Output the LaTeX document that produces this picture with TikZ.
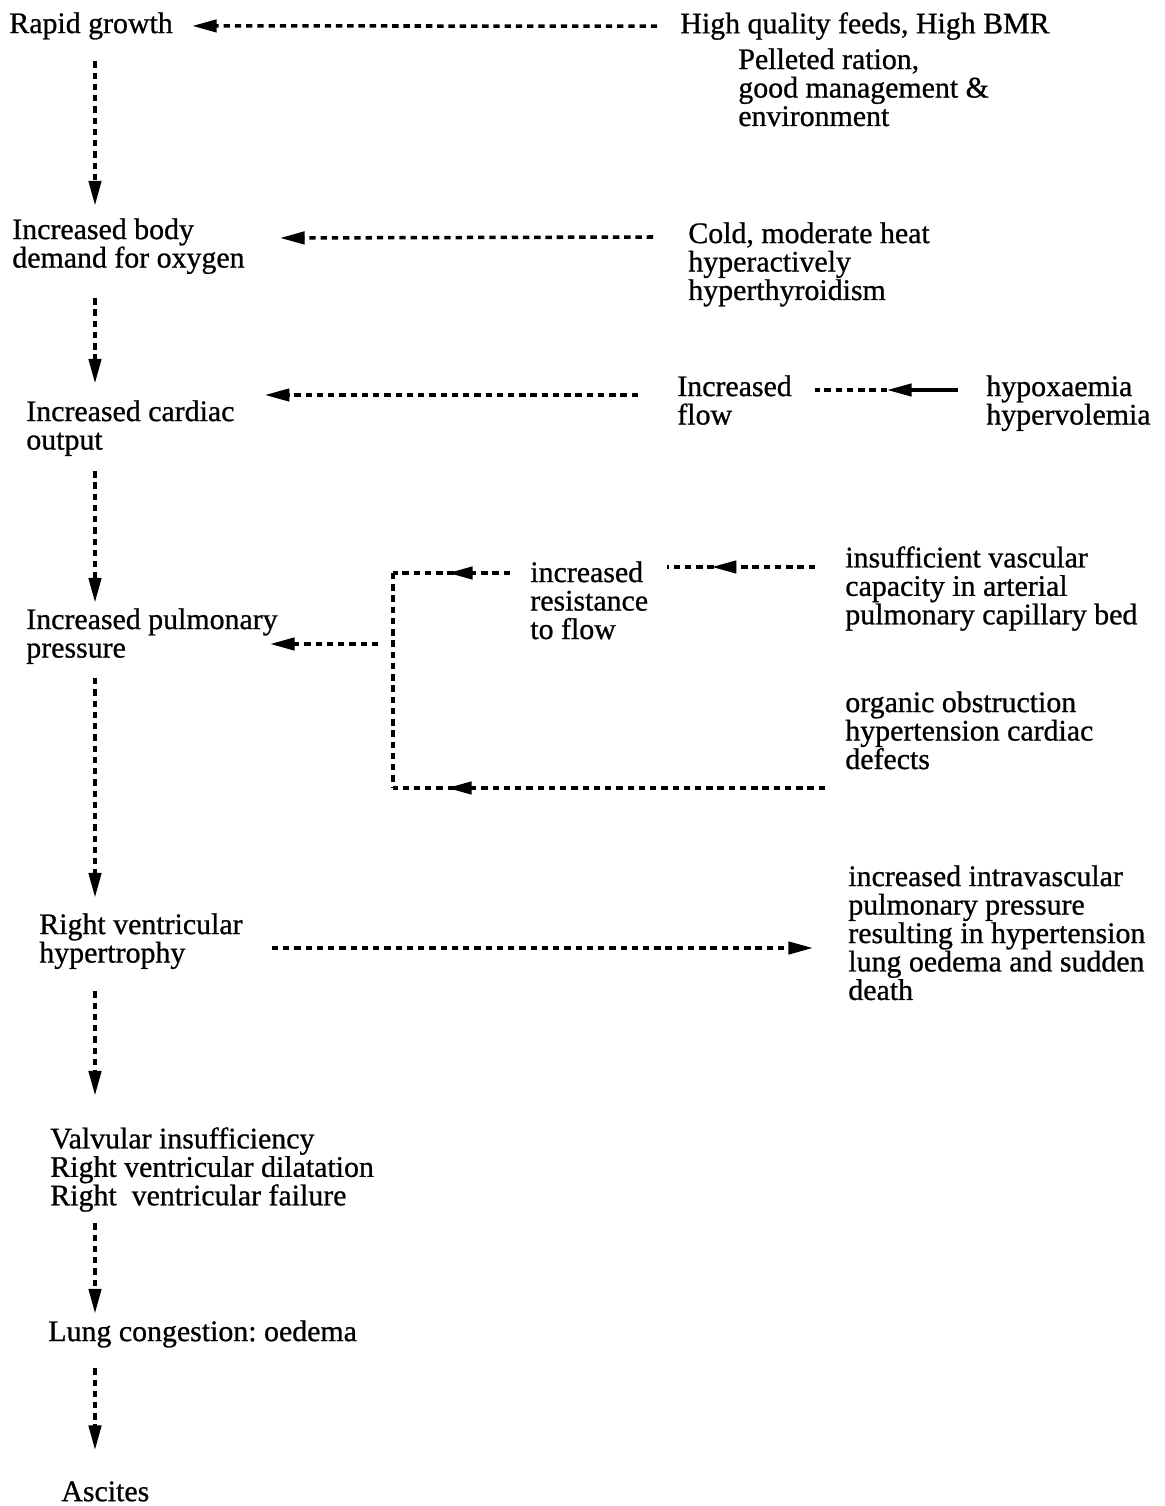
\documentclass[tikz,border=0pt]{standalone}
\usepackage{fontspec}
\setmainfont{Liberation Serif}[FakeBold=0.8]
\usetikzlibrary{arrows.meta,calc,decorations.markings}
\frenchspacing

\begin{document}
\begin{tikzpicture}[
  x=0.02cm, y=-0.02cm,
  lbl/.style={anchor=north west, inner sep=0pt, align=left, font=\fontsize{17pt}{16.2pt}\selectfont},
  dots/.style={line width=2pt, dash pattern=on 3.6pt off 2.8pt},
  flow/.style={dots, -{Triangle[length=14pt, width=7pt]}},
  midtip/.style={postaction={decorate}, decoration={markings,
      mark=at position #1 with {\arrow{Triangle[length=14pt, width=7pt]}}}},
]
\useasboundingbox (0,0) rectangle (1164,1506);
% main chain
\node[lbl] (rapid) at (9,12) {Rapid growth};
\node[lbl] (body) at (12,218) {Increased body\\demand for oxygen};
\node[lbl] (cardiac) at (26,400) {Increased cardiac\\output};
\node[lbl] (pulm) at (26,608) {Increased pulmonary\\pressure};
\node[lbl] (rvh) at (39,913) {Right ventricular\\hypertrophy};
\node[lbl] (valv) at (50,1127) {Valvular insufficiency\\Right ventricular dilatation\\Right\ \ ventricular failure};
\node[lbl] (lung) at (48,1320) {Lung congestion: oedema};
\node[lbl] (asc) at (61,1481) {Ascites};
% causes
\node[lbl] (hq) at (680,12) {High quality feeds, High BMR};
\node[lbl] (pell) at (738,48) {Pelleted ration,\\good management \&\\environment};
\node[lbl] (cold) at (688,222) {Cold, moderate heat\\hyperactively\\hyperthyroidism};
\node[lbl] (incf) at (677,375) {Increased\\flow};
\node[lbl] (hypox) at (986,375) {hypoxaemia\\hypervolemia};
\node[lbl] (res) at (530,561) {increased\\resistance\\to flow};
\node[lbl] (insuf) at (845,546) {insufficient vascular\\capacity in arterial\\pulmonary capillary bed};
\node[lbl] (organic) at (845,691) {organic obstruction\\hypertension cardiac\\defects};
\node[lbl] (intra) at (848,865) {increased intravascular\\pulmonary pressure\\resulting in hypertension\\lung oedema and sudden\\death};

\coordinate (spine) at (95,0);
\coordinate (tl) at (393,573);
\coordinate (bl) at (393,788);
\coordinate (bus) at (393,644);
\coordinate (oend) at (825,788);
\coordinate (hmid) at ($(hypox.north west)+(-99,15)$);

\draw[flow, shorten <=12.2pt, shorten >=7.1pt] (rapid.south -| spine) -- (body.north -| spine);
\draw[flow, shorten <=13.6pt, shorten >=9.4pt] (body.south -| spine) -- (cardiac.north -| spine);
\draw[flow, shorten <=8.5pt, shorten >=3.1pt] (cardiac.south -| spine) -- (pulm.north -| spine);
\draw[flow, shorten <=7.9pt, shorten >=8.8pt] (pulm.south -| spine) -- (rvh.north -| spine);
\draw[flow, shorten <=12.5pt, shorten >=17.9pt] (rvh.south -| spine) -- (valv.north -| spine);
\draw[flow, shorten <=6.4pt, shorten >=3.7pt] (valv.south -| spine) -- (lung.north -| spine);
\draw[flow, shorten <=11.6pt, shorten >=17.6pt] (lung.south -| spine) -- (asc.north -| spine);

\draw[flow, shorten <=13pt, shorten >=10.8pt] (hq.west) -- (rapid.east);
\draw[flow] ($(cold.north west)+(-35,15)$) -- ($(body.north east)+(35,20)$);
\draw[flow] ($(incf.north west)+(-39,20)$) -- ($(cardiac.north east)+(30,-5)$);
\draw[line width=2pt, -{Triangle[length=14pt, width=7pt]}] ($(hypox.north west)+(-28,15)$) -- (hmid);
\draw[dots] (hmid) -- ($(incf.north east)+(23,15)$);

% resistance loop
\draw[dots, midtip=0.70] ($(insuf.north west)+(-30,21)$) -- ($(res.north east)+(19,6)$);
\draw[dots, midtip=0.53] ($(res.north west)+(-20,12)$) -- (tl);
\draw[dots] (tl) -- (bl);
\draw[dots, midtip=0.875] (oend) -- (bl);
\draw[flow, shorten <=8.5pt] (bus) -- ($(pulm.north east)+(-8,36)$);

\draw[flow] ($(rvh.north east)+(29,35)$) -- ($(intra.north west)+(-35,83)$);
\end{tikzpicture}
\end{document}
